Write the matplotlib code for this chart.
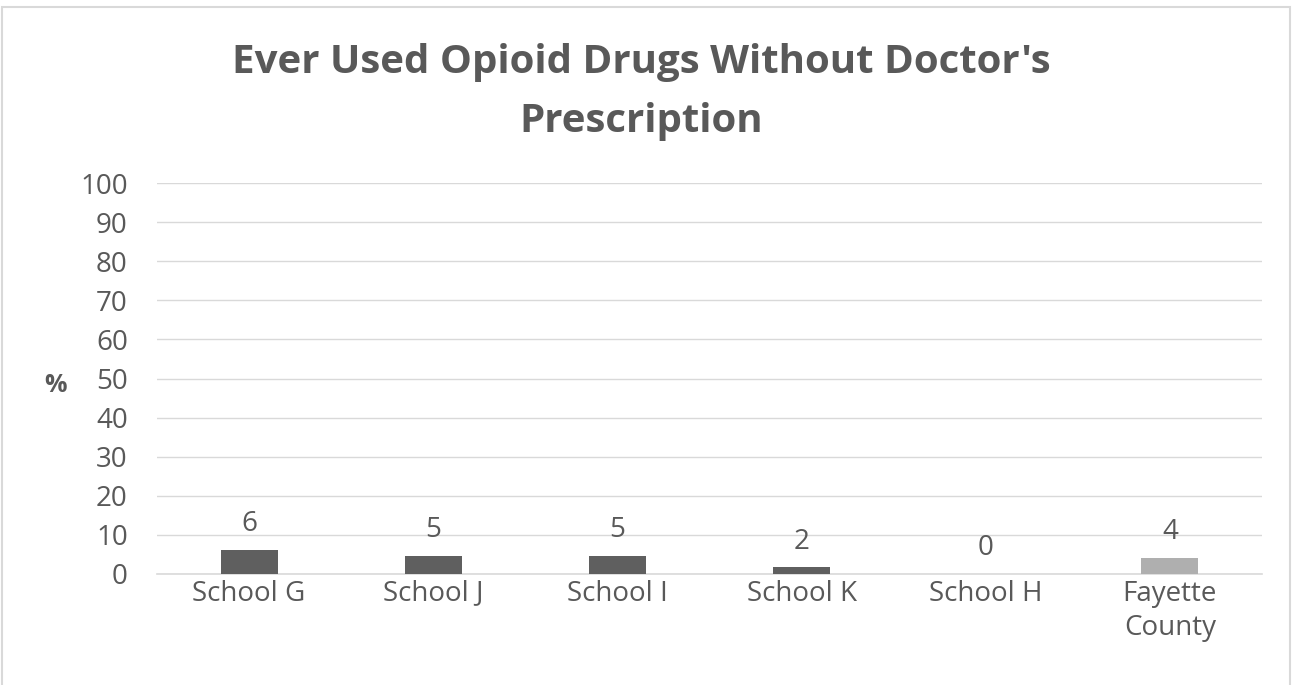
import matplotlib
matplotlib.use("Agg")
import matplotlib.pyplot as plt
from matplotlib.patches import Rectangle

categories = ["School G", "School J", "School I", "School K", "School H", "Fayette\nCounty"]
values = [6.1, 4.7, 4.6, 1.7, 0.0, 4.1]
labels = ["6", "5", "5", "2", "0", "4"]
colors = ["#5f5f5f", "#5f5f5f", "#5f5f5f", "#5f5f5f", "#5f5f5f", "#afafaf"]
yticks = list(range(0, 101, 10))
title_lines = ["Ever Used Opioid Drugs Without Doctor's", "Prescription"]

plt.rcParams['font.family'] = ['Open Sans', 'DejaVu Sans']
txt = "#595959"

fig = plt.figure(figsize=(12.93, 6.85), dpi=100)
ax = fig.add_axes([157/1293, 1-574/685, (1262-157)/1293, (574-183)/685])

x = range(len(categories))
ax.bar(x, values, width=0.31, color=colors, zorder=3)
for xi, v, lab in zip(x, values, labels):
    ax.text(xi, v + 3.0, lab, ha="center", va="bottom", fontsize=20, color=txt)

ax.set_ylim(0, 100)
ax.set_xlim(-0.5, len(categories) - 0.5)
ax.set_yticks(yticks)
ax.set_yticklabels([str(t) for t in yticks], fontsize=20, color=txt)
ax.set_xticks(list(x))
ax.set_xticklabels(categories, fontsize=20, color=txt, linespacing=1.3)
ax.tick_params(axis="both", length=0)
ax.tick_params(axis="y", pad=21)
ax.tick_params(axis="x", pad=4)
ax.grid(axis="y", color="#d9d9d9", linewidth=1, zorder=0)
for s in ["top", "right", "left"]:
    ax.spines[s].set_visible(False)
ax.spines["bottom"].set_color("#d9d9d9")
ax.spines["bottom"].set_linewidth(1.2)

fig.text(55/1293, 1-385/685, "%", fontsize=18, fontweight="bold", color=txt, ha="center", va="center")
for line, yb in zip(title_lines, [73, 132]):
    fig.text(641/1293, 1-yb/685, line, fontsize=29, fontweight="bold", color=txt,
             ha="center", va="baseline")

fig.patches.append(Rectangle((2/1293, -0.01), 1288/1293, 1 - 7/685 + 0.01, transform=fig.transFigure,
                             fill=False, edgecolor="#d9d9d9", linewidth=1.5))

fig.savefig("out.png", dpi=100, facecolor="white")
